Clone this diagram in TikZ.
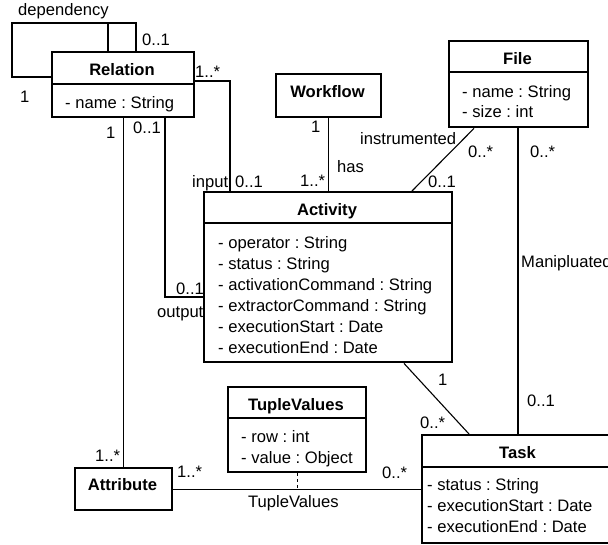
\documentclass[tikz,border=0pt]{standalone}
\usepackage{fontspec}
\setmainfont{Liberation Sans}
\frenchspacing
\tikzset{
  umlclass/.style={draw, line width=2.4pt, anchor=north west, inner sep=0pt},
  conn/.style={line width=1.1pt},
  ctitle/.style={font=\fontsize{16.6}{21}\selectfont\bfseries, anchor=base, inner sep=0pt},
  cattr/.style={anchor=base west, inner sep=0pt},
  mult/.style={anchor=base west, inner sep=0pt},
}

\begin{document}
\begin{tikzpicture}[x=1pt, y=-1pt, font=\fontsize{16.6}{21}\selectfont]
    \clip (0,0) rectangle (608,544);
    % class boxes
    \node[umlclass, minimum width=142pt, minimum height=65pt]  (relation)  at (51,51) {};
    \node[umlclass, minimum width=105pt, minimum height=43pt]  (workflow)  at (275,73) {};
    \node[umlclass, minimum width=139pt, minimum height=86pt]  (file)      at (448,40) {};
    \node[umlclass, minimum width=248pt, minimum height=170pt] (activity)  at (203,191) {};
    \node[umlclass, minimum width=138pt, minimum height=85pt]  (tuple)     at (227,386) {};
    \node[umlclass, minimum width=97pt,  minimum height=42pt]  (attribute) at (74,467) {};
    \node[umlclass, minimum width=193pt, minimum height=108pt] (task)      at (421,434) {};
    \draw[conn] (relation.west |- 0,84) -- (relation.east |- 0,84);
    \draw[conn] (file.west |- 0,72) -- (file.east |- 0,72);
    \draw[conn] (activity.west |- 0,223) -- (activity.east |- 0,223);
    \draw[conn] (tuple.west |- 0,418) -- (tuple.east |- 0,418);
    \draw[conn] (task.west |- 0,467) -- (task.east |- 0,467);
    % titles
    \node[ctitle] (relation-t)  at (122,75)    {Relation};
    \node[ctitle] (workflow-t)  at (327.5,97)  {Workflow};
    \node[ctitle] (file-t)      at (517.5,64)  {File};
    \node[ctitle] (activity-t)  at (327,215)   {Activity};
    \node[ctitle] (tuple-t)     at (296,410)   {TupleValues};
    \node[ctitle] (attribute-t) at (122.5,490) {Attribute};
    \node[ctitle] (task-t)      at (517.5,458) {Task};
    % attributes
    \node[cattr] (relation-a1) at (65,108) {- name : String};
    \foreach \a [count=\i] in {name : String, size : int}
      \node[cattr] (file-a\i) at (462,{97+20*(\i-1)}) {- \a};
    \foreach \a [count=\i] in {operator : String, status : String,
        activationCommand : String, extractorCommand : String,
        executionStart : Date, executionEnd : Date}
      \node[cattr] (activity-a\i) at (218,{248+21*(\i-1)}) {- \a};
    \foreach \a [count=\i] in {row : int, value : Object}
      \node[cattr] (tuple-a\i) at (241,{442+21*(\i-1)}) {- \a};
    \foreach \a [count=\i] in {status : String, executionStart : Date, executionEnd : Date}
      \node[cattr] (task-a\i) at (427,{490+21*(\i-1)}) {- \a};
    % associations
    \coordinate (dep-a) at (12,77);
    \coordinate (dep-b) at (12,23);
    \coordinate (dep-c) at (136,23);
    \coordinate (dep-d) at (108,23);
    \draw[conn] (relation.west |- dep-a) -- (dep-a) -- (dep-b) -- (dep-c) -- (relation.north -| dep-c);
    \draw[conn] (dep-d) -- (relation.north -| dep-d);
    \draw[conn] (relation.east |- 0,81) -| (activity.north -| 230,0);
    \draw[conn] (relation.south -| 165,0) |- (activity.west |- 0,297);
    \draw[conn] (relation.south -| attribute.north) -- (attribute.north);
    \draw[conn] (workflow.south) -- (activity.north -| workflow.south);
    \draw[conn] (file.south -| 474,0) -- (activity.north -| 412,0);
    \draw[conn] (file.south -| 518,0) -- (task.north -| 518,0);
    \draw[conn] (activity.south -| 404,0) -- (task.north -| 469,0);
    \draw[conn] (attribute.east) -- (attribute.east -| task.west);
    \draw[conn, dash pattern=on 3pt off 3pt] (tuple.south) -- (tuple.south |- attribute.east);
    % multiplicities and role names
    \foreach \x/\y/\t [count=\i] in {18/15/dependency, 142/45/0..1, 20/102/1,
        195/77/1..*, 106/138/1, 133/133/0..1, 192/187/input, 235/187/0..1,
        311/132/1, 300/186/1..*, 337/172/has, 360/144/instrumented,
        468/157/0..*, 530/157/0..*, 428/187/0..1, 521/267/Manipluated,
        527/406/0..1, 176/294/0..1, 157/317/output, 438/385/1, 420/428/0..*,
        382/478/0..*, 177/477/1..*, 95/461/1..*, 248/507/TupleValues}
      \node[mult] (m\i) at (\x,\y) {\t};
\end{tikzpicture}
\end{document}
